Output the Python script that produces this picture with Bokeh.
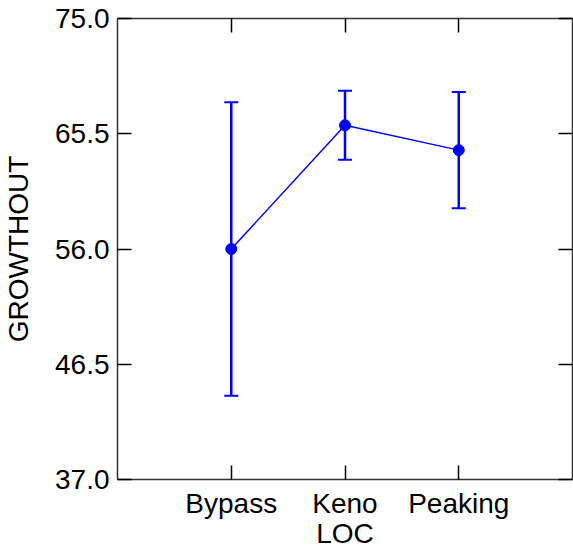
from bokeh.plotting import figure
from bokeh.models import (Range1d, FixedTicker, LinearAxis, Whisker, TeeHead,
                          ColumnDataSource, NumeralTickFormatter, CustomJSTickFormatter)
from bokeh.embed import file_html
from bokeh.resources import INLINE

categories = ["Bypass", "Keno", "Peaking"]
means = [56.0, 66.2, 64.15]
lower = [43.9, 63.35, 59.35]
upper = [68.1, 69.05, 68.95]
y_ticks = [37.0, 46.5, 56.0, 65.5, 75.0]
x_title = "LOC"
y_title = "GROWTHOUT"

positions = list(range(1, len(categories) + 1))
src = ColumnDataSource(dict(x=positions, y=means, lo=lower, hi=upper))

FONT = "Liberation Sans"
BLUE = "#0000FF"

p = figure(width=573, height=555, output_backend="svg", toolbar_location=None,
           x_range=Range1d(0, len(categories) + 1), y_range=Range1d(y_ticks[0], y_ticks[-1]),
           min_border_left=113, min_border_right=1, min_border_top=18, min_border_bottom=76,
           x_axis_location=None, y_axis_location=None)
p.outline_line_color = None
p.xgrid.visible = False
p.ygrid.visible = False
p.background_fill_color = "white"
p.border_fill_color = "white"


def style(ax, labels=True):
    ax.axis_line_color = "#333333"
    ax.axis_line_width = 1.5
    ax.major_tick_line_color = "black"
    ax.major_tick_line_width = 1.5
    ax.major_tick_in = 14
    ax.major_tick_out = 0
    ax.minor_tick_line_color = None
    ax.major_label_text_font = FONT
    ax.major_label_text_font_size = "28px"
    ax.major_label_text_color = "black"
    ax.axis_label_text_font = FONT
    ax.axis_label_text_font_size = "28px"
    ax.axis_label_text_font_style = "normal"
    ax.axis_label_text_color = "black"
    if not labels:
        ax.formatter = CustomJSTickFormatter(code="return ''")
        ax.major_label_standoff = 0
        ax.major_label_text_font_size = "1px"


xt = FixedTicker(ticks=positions)
yt = FixedTicker(ticks=y_ticks)

bottom = LinearAxis(ticker=xt, axis_label=x_title,
                    major_label_overrides={pos: c for pos, c in zip(positions, categories)})
style(bottom)
bottom.major_label_standoff = 8
bottom.axis_label_standoff = -4
p.add_layout(bottom, "below")

top = LinearAxis(ticker=xt)
style(top, labels=False)
p.add_layout(top, "above")

left = LinearAxis(ticker=yt, axis_label=y_title, formatter=NumeralTickFormatter(format="0.0"))
style(left)
left.major_label_standoff = 8
left.axis_label_standoff = 18
p.add_layout(left, "left")

right = LinearAxis(ticker=yt)
style(right, labels=False)
p.add_layout(right, "right")

p.add_layout(Whisker(source=src, base="x", lower="lo", upper="hi",
                     line_color=BLUE, line_width=2.5,
                     upper_head=TeeHead(size=14, line_color=BLUE, line_width=2),
                     lower_head=TeeHead(size=14, line_color=BLUE, line_width=2)))
p.line("x", "y", source=src, line_color=BLUE, line_width=1.5)
p.scatter("x", "y", source=src, size=11, fill_color=BLUE, line_color=BLUE)

open("out.html", "w").write(file_html(p, INLINE))
